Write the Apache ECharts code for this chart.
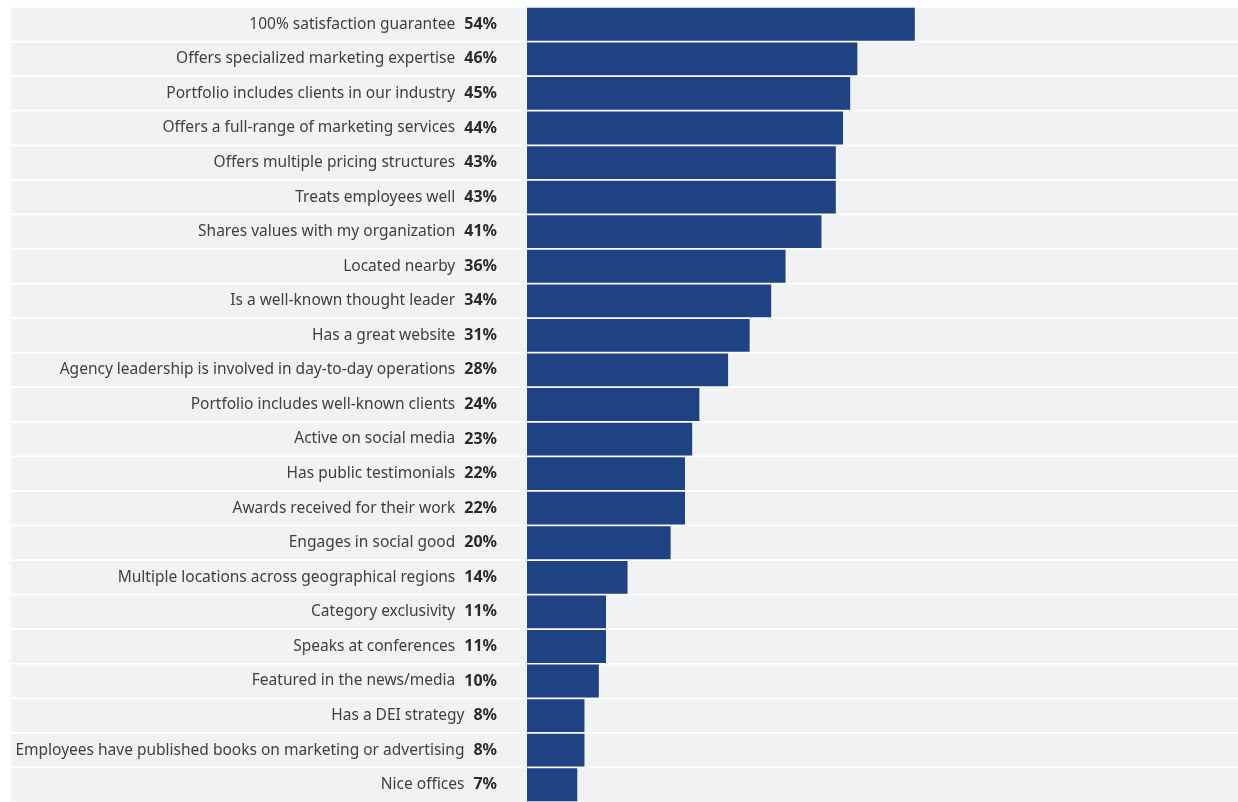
<!DOCTYPE html>
<html>
<head>
<meta charset="utf-8">
<style>
  html, body { margin: 0; padding: 0; background: #ffffff; }
  #chart { width: 1238px; height: 802px; }
</style>
<script src="https://cdn.jsdelivr.net/npm/echarts@6/dist/echarts.min.js"></script>
</head>
<body>
<div id="chart"></div>
<script>
// Agency selection factors, share of respondents (%)
const categories = [
  "100% satisfaction guarantee",
  "Offers specialized marketing expertise",
  "Portfolio includes clients in our industry",
  "Offers a full-range of marketing services",
  "Offers multiple pricing structures",
  "Treats employees well",
  "Shares values with my organization",
  "Located nearby",
  "Is a well-known thought leader",
  "Has a great website",
  "Agency leadership is involved in day-to-day operations",
  "Portfolio includes well-known clients",
  "Active on social media",
  "Has public testimonials",
  "Awards received for their work",
  "Engages in social good",
  "Multiple locations across geographical regions",
  "Category exclusivity",
  "Speaks at conferences",
  "Featured in the news/media",
  "Has a DEI strategy",
  "Employees have published books on marketing or advertising",
  "Nice offices"
];
const values = [54, 46, 45, 44, 43, 43, 41, 36, 34, 31, 28, 24, 23, 22, 22, 20, 14, 11, 11, 10, 8, 8, 7];

const BAR_COLOR = '#1f4283';
const BAND_COLOR = '#f1f2f4';

const chart = echarts.init(document.getElementById('chart'), null, { renderer: 'canvas' });

const option = {
  animation: false,
  backgroundColor: '#ffffff',
  grid: [
    // full-width row bands behind the labels and bars
    { left: 11, right: 0, top: 7, bottom: 0 },
    // value bars
    { left: 527, right: 0, top: 7, bottom: 0 }
  ],
  xAxis: [
    { gridIndex: 0, type: 'value', min: 0, max: 1, show: false },
    { gridIndex: 1, type: 'value', min: 0, max: 99, show: false }
  ],
  yAxis: [
    { gridIndex: 0, type: 'category', data: categories, inverse: true, show: false },
    {
      gridIndex: 1,
      type: 'category',
      data: categories,
      inverse: true,
      z: 10,
      axisLine: { show: false },
      axisTick: { show: false },
      splitLine: { show: false },
      axisLabel: {
        margin: 30,
        formatter: function (name, idx) {
          return '{n|' + name + '}{g|}{v|' + values[idx] + '%}';
        },
        rich: {
          n: { fontFamily: 'Noto Sans', fontSize: 15.5, color: '#404040', fontWeight: 'normal' },
          g: { width: 9 },
          v: { fontFamily: 'Noto Sans', fontSize: 16, color: '#2b2b2b', fontWeight: 'bold' }
        }
      }
    }
  ],
  series: [
    {
      type: 'bar',
      xAxisIndex: 0,
      yAxisIndex: 0,
      z: 0,
      silent: true,
      data: categories.map(() => 1),
      barCategoryGap: '5%',
      itemStyle: { color: BAND_COLOR }
    },
    {
      type: 'bar',
      xAxisIndex: 1,
      yAxisIndex: 1,
      z: 2,
      data: values,
      barCategoryGap: '5%',
      itemStyle: { color: BAR_COLOR }
    }
  ]
};

chart.setOption(option);
</script>
</body>
</html>
